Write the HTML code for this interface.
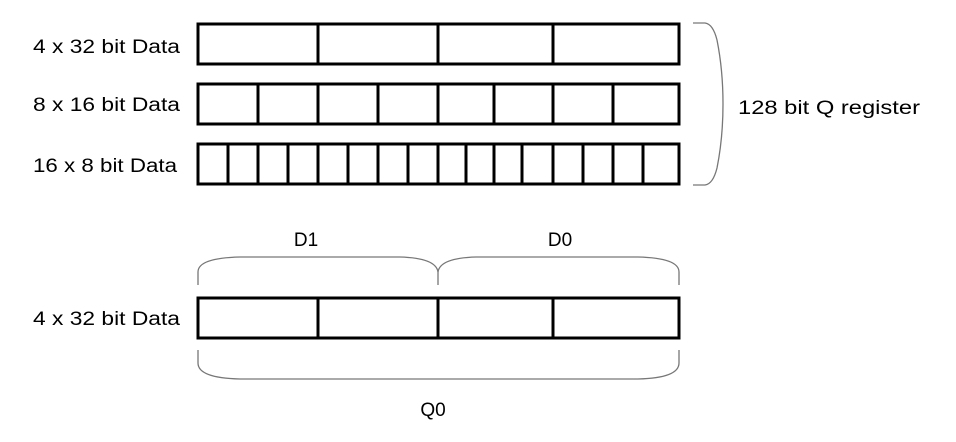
<!DOCTYPE html>
<html><head><meta charset="utf-8"><style>
body{margin:0;background:#fff;width:956px;height:442px;overflow:hidden}
svg{display:block}
text{font-family:"Liberation Sans",Arial,sans-serif;font-size:19px;fill:#000}
</style></head><body>
<svg width="956" height="442">
<g id="rows"></g>
<g fill="none" stroke="#777" stroke-width="1.3">
<path d="M198,285 V272 Q198,258 240,257 H400 Q436,258 438,272 V285"/>
<path d="M438,272 Q440,258 476,257 H638 Q679,258 679,272 V285"/>
<path d="M198,350 V363 Q198,378 240,379 H638 Q679,378 679,363 V350"/>
<path d="M693,23 H705 Q713,24 717,40 Q723,70 723,104 Q723,138 717,168 Q713,184 705,185 H693"/>
</g>
<text x="33" y="53" textLength="147" lengthAdjust="spacingAndGlyphs">4 x 32 bit Data</text>
<text x="33" y="111" textLength="147" lengthAdjust="spacingAndGlyphs">8 x 16 bit Data</text>
<text x="33" y="172" textLength="144" lengthAdjust="spacingAndGlyphs">16 x 8 bit Data</text>
<text x="33" y="325" textLength="147" lengthAdjust="spacingAndGlyphs">4 x 32 bit Data</text>
<text x="738" y="114" textLength="182" lengthAdjust="spacingAndGlyphs">128 bit Q register</text>
<text x="306" y="246" text-anchor="middle">D1</text>
<text x="560" y="246" text-anchor="middle">D0</text>
<text x="433" y="416" text-anchor="middle">Q0</text>
</svg>
<script>
const rowTops=[24,84,144,298];
const rowH=[40,40,40,40];
const rowDivs=[[318,438,553],[258,318,378,438,494,553,613],[228,258,288,318,348,378,408,438,466,494,522,553,583,613,643],[318,438,553]];
const rowNames=['row-4x32-top','row-8x16','row-16x8','row-4x32-bottom'];
const g=document.getElementById('rows');const NS='http://www.w3.org/2000/svg';
rowTops.forEach((t,i)=>{
 const r=document.createElementNS(NS,'rect');
 r.setAttribute('x',198);r.setAttribute('y',t);r.setAttribute('width',481);r.setAttribute('height',rowH[i]);
 r.setAttribute('fill','none');r.setAttribute('stroke','#000');r.setAttribute('stroke-width',3);
 
 
 g.appendChild(r);
 rowDivs[i].forEach(x=>{
  const l=document.createElementNS(NS,'line');
  l.setAttribute('x1',x);l.setAttribute('x2',x);l.setAttribute('y1',t);l.setAttribute('y2',t+rowH[i]);
  l.setAttribute('stroke','#000');l.setAttribute('stroke-width',3);
  
  
  g.appendChild(l);
 });
});
</script>
</body></html>
